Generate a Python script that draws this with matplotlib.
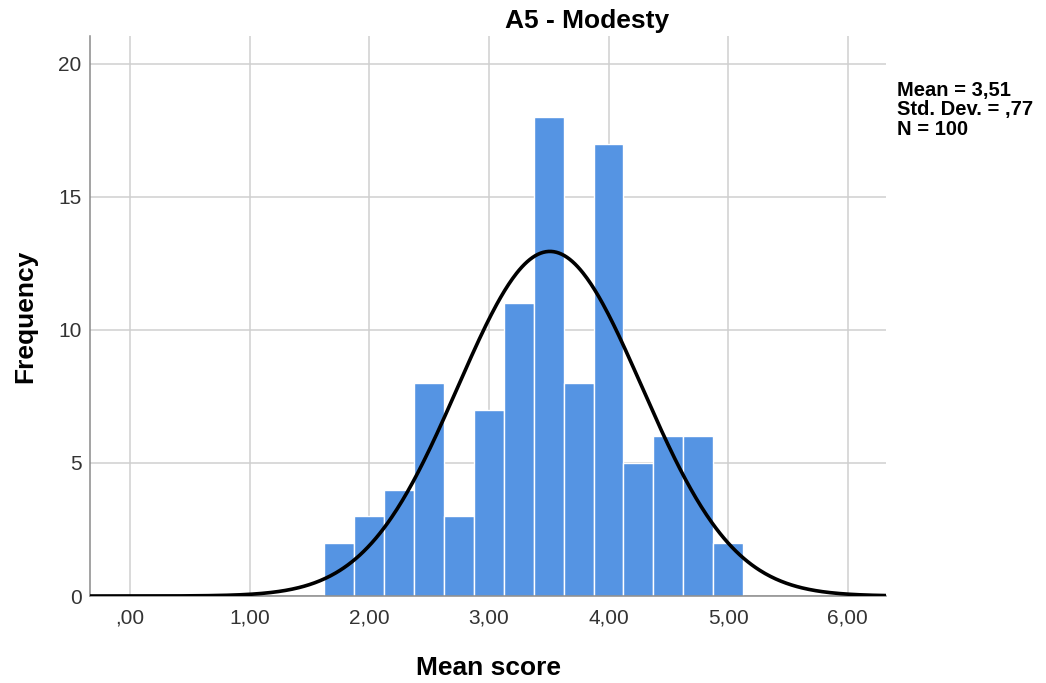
import numpy as np
import matplotlib
matplotlib.use("Agg")
import matplotlib.pyplot as plt

plt.rcParams['font.family'] = ['Liberation Sans', 'DejaVu Sans']

# histogram data (bin centres, bin width .25)
bin_centers = [1.75, 2.00, 2.25, 2.50, 2.75, 3.00, 3.25, 3.50, 3.75, 4.00, 4.25, 4.50, 4.75, 5.00]
counts = [2, 3, 4, 8, 3, 7, 11, 18, 8, 17, 5, 6, 6, 2]
bin_width = 0.25
mean_val = 3.51
std_val = 0.77
n_val = 100

x_ticks = [0, 1, 2, 3, 4, 5, 6]
x_ticklabels = [",00", "1,00", "2,00", "3,00", "4,00", "5,00", "6,00"]
y_ticks = [0, 5, 10, 15, 20]

fig = plt.figure(figsize=(10.46, 6.83), dpi=100)
ax = fig.add_axes([90/1046, 1-596/683, (886-90)/1046, (596-36)/683])

ax.bar(bin_centers, counts, width=bin_width, color='#5594e3', edgecolor='white',
       linewidth=1.0, zorder=2)

xlim = (-0.335, 6.32)
xs = np.linspace(xlim[0], xlim[1], 600)
ys = n_val * bin_width / (std_val * np.sqrt(2*np.pi)) * np.exp(-0.5*((xs-mean_val)/std_val)**2)
ax.plot(xs, ys, color='black', linewidth=2.6, zorder=3, solid_capstyle='butt')

ax.set_xlim(*xlim)
ax.set_ylim(0, 21.05)
ax.set_xticks(x_ticks)
ax.set_xticklabels(x_ticklabels)
ax.set_yticks(y_ticks)
ax.grid(True, color='#cfcfcf', linewidth=1.1, zorder=0)
ax.set_axisbelow(True)
for s in ['top', 'right']:
    ax.spines[s].set_visible(False)
for s in ['left', 'bottom']:
    ax.spines[s].set_color('#8a8a8a')
    ax.spines[s].set_linewidth(1.1)
ax.tick_params(axis='both', length=0, labelsize=15, labelcolor='#333333')
ax.tick_params(axis='x', pad=9)
ax.tick_params(axis='y', pad=6)

fig.text(587/1046, 1-28/683, "A5 - Modesty", ha='center', va='baseline',
         fontsize=19, fontweight='bold')
fig.text(489/1046, 1-675/683, "Mean score", ha='center', va='baseline',
         fontsize=19, fontweight='bold')
fig.text(25/1046, 1-316/683, "Frequency", ha='center', va='center',
         rotation=90, fontsize=19, fontweight='bold')

stats = ["Mean = 3,51", "Std. Dev. = ,77", "N = %d" % n_val]
for i, line in enumerate(stats):
    fig.text(897/1046, 1-(96 + 19.5*i)/683, line, ha='left', va='baseline',
             fontsize=14.5, fontweight='bold')

fig.savefig("out.png", dpi=100)
